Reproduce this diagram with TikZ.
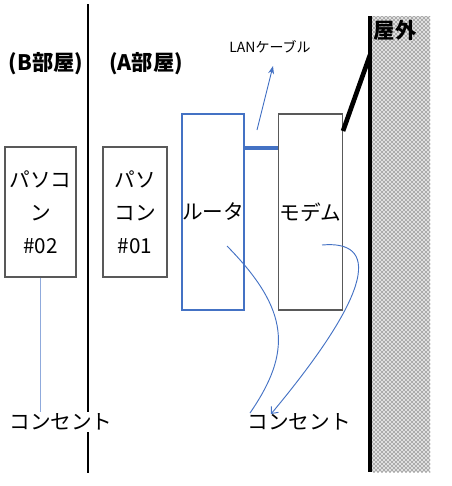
\documentclass[tikz,border=0pt]{standalone}
\usepackage{fontspec}
\setmainfont{Noto Sans CJK JP}
\usetikzlibrary{arrows.meta,patterns}
\definecolor{offblue}{RGB}{68,114,196}
\definecolor{lightblue}{RGB}{143,170,220}
\definecolor{boxgray}{RGB}{89,89,89}
\begin{document}
\begin{tikzpicture}[x=0.75pt,y=-0.75pt,
  pcbox/.style={draw=boxgray,line width=1pt,minimum width=#1,inner sep=0pt,align=center,font=\fontsize{15.5pt}{24.75pt}\selectfont},
  lbl/.style={inner sep=0pt,font=\fontsize{15.5pt}{18pt}\selectfont},
  bold/.style={inner sep=0pt,font=\fontsize{16pt}{18pt}\selectfont\bfseries},
  wire/.style={draw=offblue,line width=0.7pt}]
\useasboundingbox (0,0) rectangle (452,486);
% outdoor area
\fill[gray!25] (371,16) rectangle (430,472);
\fill[pattern=crosshatch dots,pattern color=black] (371,16) rectangle (430,472);
\draw[line width=3pt] (370,16) -- (370,472);
\node[bold] (outside) at (395,30) {屋外};
% room divider
\draw[line width=0.8pt] (88,4) -- (88,473);
\node[bold] (roomB) at (46,64) {(B部屋)};
\node[bold] (roomA) at (146,64) {(A部屋)};
% boxes
\node[pcbox=53.25pt,minimum height=97.5pt] (pc2) at (40.5,212) {パソコ\\ン\\\#02};
\node[pcbox=48pt,minimum height=97.5pt] (pc1) at (135,212) {パソ\\コン\\\#01};
\node[draw=offblue,line width=2.2pt,minimum width=45.75pt,minimum height=147pt,inner sep=0pt,lbl] (router) at (213,212) {ルータ};
\node[draw=boxgray,line width=1pt,minimum width=48pt,minimum height=147pt,inner sep=0pt,lbl] (modem) at (310.5,212) {モデム};
% LAN cable between router and modem
\draw[offblue,line width=3pt] (router.east|-0,148) -- (modem.west|-0,148);
% modem to outside line
\coordinate (mtop) at (343,131);
\coordinate (wallpt) at (370,55);
\draw[line width=3.5pt] (mtop) -- (wallpt);
% LAN label and arrow
\node[inner sep=0pt,font=\fontsize{10.5pt}{12pt}\selectfont] (lan) at (270,47) {LANケーブル};
\coordinate (lanstart) at (257,130);
\draw[wire,-{Stealth[length=6pt,width=4.5pt]}] (lanstart) -- (273,66);
% outlets
\node[lbl,fill=white,inner sep=1pt] (out1) at (61,422) {コンセント};
\node[lbl] (out2) at (299,422) {コンセント};
\draw[lightblue,line width=0.8pt] (pc2.south) -- (pc2.south|-out1.north);
% cords
\coordinate (rc) at (227,246);
\coordinate (mc) at (322,245);
\draw[wire] (rc) .. controls (290,310) and (292,352) .. (250,413);
\draw[wire,-{Straight Barb[length=4pt,width=7pt]}] (mc) .. controls (378,240) and (376,288) .. (271,414);
\end{tikzpicture}
\end{document}
